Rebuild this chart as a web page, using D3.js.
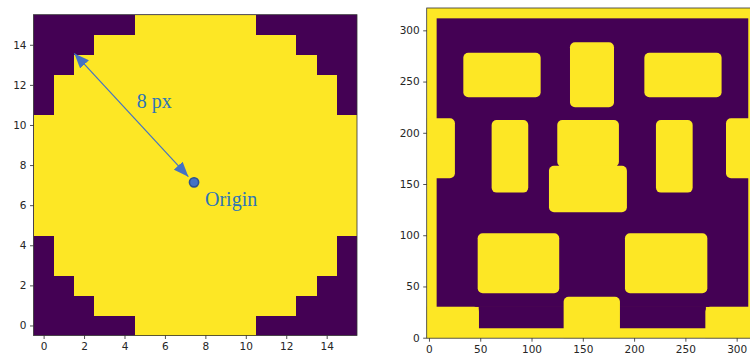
<!DOCTYPE html>
<html>
<head>
<meta charset="utf-8">
<script src="https://cdn.jsdelivr.net/npm/d3@7"></script>
<style>
  html, body { margin: 0; padding: 0; background: #ffffff; }
  svg { display: block; }
  .tick text { font-family: "DejaVu Sans", sans-serif; font-size: 10.5px; fill: #262626; }
  .tick line { stroke: #262626; stroke-width: 0.8; }
  .domain { display: none; }
</style>
</head>
<body>
<svg id="chart" width="750" height="356"></svg>
<script>
// Disk mask, one [first, last] filled column per row, row 0 at the bottom
const diskRows = [
  [5, 10], [3, 12], [2, 13], [1, 14], [1, 14],
  [0, 15], [0, 15], [0, 15], [0, 15], [0, 15], [0, 15],
  [1, 14], [1, 14], [2, 13], [3, 12], [5, 10]
];
const diskTicks = [0, 2, 4, 6, 8, 10, 12, 14];

// Radius annotation: tip near the rim, tip near the centre, centre dot
const radiusArrow = { x1: 1.52, y1: 13.57, x2: 7.16, y2: 7.42 };
const originPoint = { x: 7.44, y: 7.14 };
const radiusLabel = "8 px";
const originLabel = "Origin";

// Map panel: filled background, empty regions, filled rounded blocks [x0, x1, y0, y1]
const mapTicks = [0, 50, 100, 150, 200, 250, 300];
const emptyRegions = [
  [7.5, 311.3, 30, 311.7],
  [48.5, 270, 9.2, 30.5]
];
const blocks = [
  [-20, 48.7, -20, 30.2],
  [131.3, 186.2, -20, 40],
  [269.5, 340, -20, 30.2],
  [33.5, 108.9, 234.6, 278.2],
  [137.5, 180.4, 224.9, 288.3],
  [210, 285.3, 234.6, 278.2],
  [-20, 25.3, 155.6, 214.1],
  [61.1, 96.8, 141.6, 212.5],
  [125.1, 185.2, 166.9, 212.5],
  [117, 193, 122.4, 167.9],
  [221.3, 257.1, 141.6, 212.5],
  [289.6, 340, 155.6, 214.1],
  [47.5, 127, 43.3, 101.9],
  [191.1, 271.4, 43.3, 101.9]
];

const PURPLE = "#440154";
const YELLOW = "#fde725";
const svg = d3.select("#chart");
const defs = svg.append("defs");

/* ---------- left panel: pixel disk ---------- */
const xL = d3.scaleLinear().domain([-0.5, 15.5]).range([33.5, 357]);
const yL = d3.scaleLinear().domain([-0.5, 15.5]).range([335.5, 14.7]);

const left = svg.append("g");
// empty background, then one filled span per row
left.append("rect")
  .attr("x", xL(-0.5)).attr("y", yL(15.5))
  .attr("width", xL(15.5) - xL(-0.5)).attr("height", yL(-0.5) - yL(15.5))
  .attr("fill", PURPLE);
left.selectAll("rect.span").data(diskRows.map((s, r) => ({ r, c0: s[0], c1: s[1] })))
  .join("rect")
  .attr("class", "span")
  .attr("shape-rendering", "crispEdges")
  .attr("x", d => xL(d.c0 - 0.5))
  .attr("y", d => yL(d.r + 0.5))
  .attr("width", d => xL(d.c1 + 0.5) - xL(d.c0 - 0.5))
  .attr("height", d => yL(d.r - 0.5) - yL(d.r + 0.5) + 0.6)
  .attr("fill", YELLOW);

left.append("rect")
  .attr("x", xL(-0.5)).attr("y", yL(15.5))
  .attr("width", xL(15.5) - xL(-0.5)).attr("height", yL(-0.5) - yL(15.5))
  .attr("fill", "none").attr("stroke", "#333").attr("stroke-width", 0.8);

left.append("g").attr("transform", `translate(0,${yL(-0.5)})`)
  .call(d3.axisBottom(xL).tickValues(diskTicks).tickSize(3.5).tickPadding(3.5));
left.append("g").attr("transform", `translate(${xL(-0.5)},0)`)
  .call(d3.axisLeft(yL).tickValues(diskTicks).tickSize(3.5).tickPadding(3.5));

// double-headed radius arrow
["start", "end"].forEach(k => {
  defs.append("marker")
    .attr("id", "head-" + k)
    .attr("viewBox", "0 0 15 12")
    .attr("refX", 15).attr("refY", 6)
    .attr("markerWidth", 15).attr("markerHeight", 12)
    .attr("markerUnits", "userSpaceOnUse")
    .attr("orient", k === "start" ? "auto-start-reverse" : "auto")
    .append("path").attr("d", "M0,0 L15,6 L0,12 Z").attr("fill", "#4472C4");
});
left.append("line")
  .attr("x1", xL(radiusArrow.x1)).attr("y1", yL(radiusArrow.y1))
  .attr("x2", xL(radiusArrow.x2)).attr("y2", yL(radiusArrow.y2))
  .attr("stroke", "#4472C4").attr("stroke-width", 1.2)
  .attr("marker-start", "url(#head-start)")
  .attr("marker-end", "url(#head-end)");

left.append("circle")
  .attr("cx", xL(originPoint.x)).attr("cy", yL(originPoint.y)).attr("r", 4.6)
  .attr("fill", "#4472C4").attr("stroke", "#2F528F").attr("stroke-width", 1.6);

left.append("text")
  .attr("x", 136.7).attr("y", 108.3)
  .attr("font-family", "'Liberation Serif', 'Times New Roman', serif")
  .attr("font-size", 20).attr("fill", "#2E75B6")
  .text(radiusLabel);
left.append("text")
  .attr("x", 205).attr("y", 206)
  .attr("font-family", "'Liberation Serif', 'Times New Roman', serif")
  .attr("font-size", 20).attr("fill", "#2E75B6")
  .text(originLabel);

/* ---------- right panel: block map ---------- */
const xR = d3.scaleLinear().domain([-2.2, 322]).range([426.7, 426.7 + 324.2 * 1.0257]);
const yR = d3.scaleLinear().domain([-0.5, 321.8]).range([338.2, 8]);

defs.append("clipPath").attr("id", "map-clip")
  .append("rect")
  .attr("x", xR(-2.2)).attr("y", yR(321.8))
  .attr("width", xR(322) - xR(-2.2)).attr("height", yR(-0.5) - yR(321.8));

const right = svg.append("g");
const img = right.append("g").attr("clip-path", "url(#map-clip)");
img.append("rect")
  .attr("x", xR(-2.2)).attr("y", yR(321.8))
  .attr("width", xR(322) - xR(-2.2)).attr("height", yR(-0.5) - yR(321.8))
  .attr("fill", YELLOW);
img.selectAll("rect.empty").data(emptyRegions).join("rect")
  .attr("class", "empty")
  .attr("x", d => xR(d[0])).attr("y", d => yR(d[3]))
  .attr("width", d => xR(d[1]) - xR(d[0])).attr("height", d => yR(d[2]) - yR(d[3]))
  .attr("fill", PURPLE);
img.selectAll("rect.block").data(blocks).join("rect")
  .attr("class", "block")
  .attr("x", d => xR(d[0])).attr("y", d => yR(d[3]))
  .attr("width", d => xR(d[1]) - xR(d[0])).attr("height", d => yR(d[2]) - yR(d[3]))
  .attr("rx", 5).attr("ry", 5)
  .attr("fill", YELLOW);

right.append("rect")
  .attr("x", xR(-2.2)).attr("y", yR(321.8))
  .attr("width", xR(322) - xR(-2.2)).attr("height", yR(-0.5) - yR(321.8))
  .attr("fill", "none").attr("stroke", "#333").attr("stroke-width", 0.8);

right.append("g").attr("transform", `translate(0,${yR(-0.5)})`)
  .call(d3.axisBottom(xR).tickValues(mapTicks).tickSize(3.5).tickPadding(3.5));
right.append("g").attr("transform", `translate(${xR(-2.2)},0)`)
  .call(d3.axisLeft(yR).tickValues(mapTicks).tickSize(3.5).tickPadding(3.5));
</script>
</body>
</html>
